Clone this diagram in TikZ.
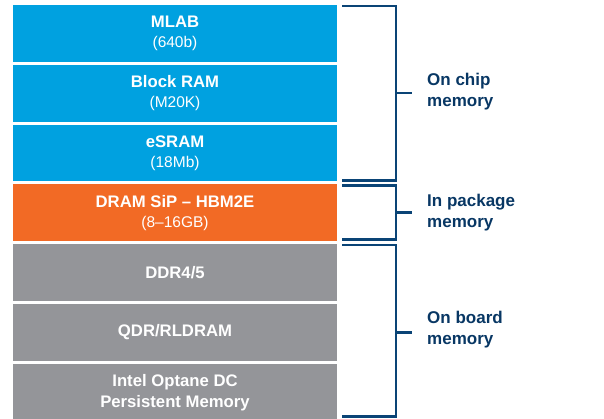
\documentclass[tikz,border=0pt]{standalone}
\usepackage{fontspec}
\setmainfont{Liberation Sans}
\definecolor{chipblue}{RGB}{0,161,224}
\definecolor{pkgorange}{RGB}{242,106,37}
\definecolor{boardgray}{RGB}{148,149,153}
\definecolor{navy}{RGB}{10,68,118}
\definecolor{labelnavy}{RGB}{8,55,100}
\newcommand{\btitle}[1]{{\bfseries\fontsize{16.7}{21}\selectfont #1}}
\newcommand{\bsub}[1]{{\fontsize{15.5}{21}\selectfont #1}}
\begin{document}
\begin{tikzpicture}[x=1pt,y=-1pt,
  box/.style={minimum width=324pt, minimum height=56.8pt, inner sep=0pt, text=white,
    align=center, font=\fontsize{16}{21}\selectfont},
  brace/.style={draw=navy, line width=2.7pt, line cap=butt, line join=miter},
  lbl/.style={anchor=west, align=left, text=labelnavy, inner sep=0pt,
    font=\bfseries\fontsize{17}{21.5}\selectfont}]
\useasboundingbox (0,0) rectangle (604,419);
\node[box, fill=chipblue] (mlab) at (175,33.4) {\btitle{MLAB}\\[-1pt]\bsub{(640b)}};
\node[box, fill=chipblue] (bram) at (175,93.2) {\btitle{Block RAM}\\[-1pt]\bsub{(M20K)}};
\node[box, fill=chipblue] (esram) at (175,153.0) {\btitle{eSRAM}\\[-1pt]\bsub{(18Mb)}};
\node[box, fill=pkgorange] (hbm) at (175,212.8) {\btitle{DRAM SiP – HBM2E}\\[-1pt]\bsub{(8–16GB)}};
\node[box, fill=boardgray] (ddr) at (175,272.6) {\btitle{DDR4/5}};
\node[box, fill=boardgray] (qdr) at (175,332.4) {\btitle{QDR/RLDRAM}};
\node[box, fill=boardgray] (optane) at (175,392.2) {\btitle{Intel Optane DC}\\\btitle{Persistent Memory}};

\coordinate (c1t) at (342,6);   \coordinate (c1b) at (342,180.7);
\coordinate (c2t) at (342,185.7); \coordinate (c2b) at (342,239.5);
\coordinate (c3t) at (342,245); \coordinate (c3b) at (342,416.7);

\draw[brace] (c1t) -- ++(54,0) |- (c1b);
\draw[brace] (396,93) -- (412,93);
\draw[brace] (c2t) -- ++(54,0) |- (c2b);
\draw[brace] (396,212.3) -- (412,212.3);
\draw[brace] (c3t) -- ++(54,0) |- (c3b);
\draw[brace] (396,332.3) -- (412,332.3);

\node[lbl] (lchip) at (427,91.5) {On chip\\memory};
\node[lbl] (lpkg) at (427,212.5) {In package\\memory};
\node[lbl] (lboard) at (427,329.5) {On board\\memory};
\end{tikzpicture}
\end{document}
